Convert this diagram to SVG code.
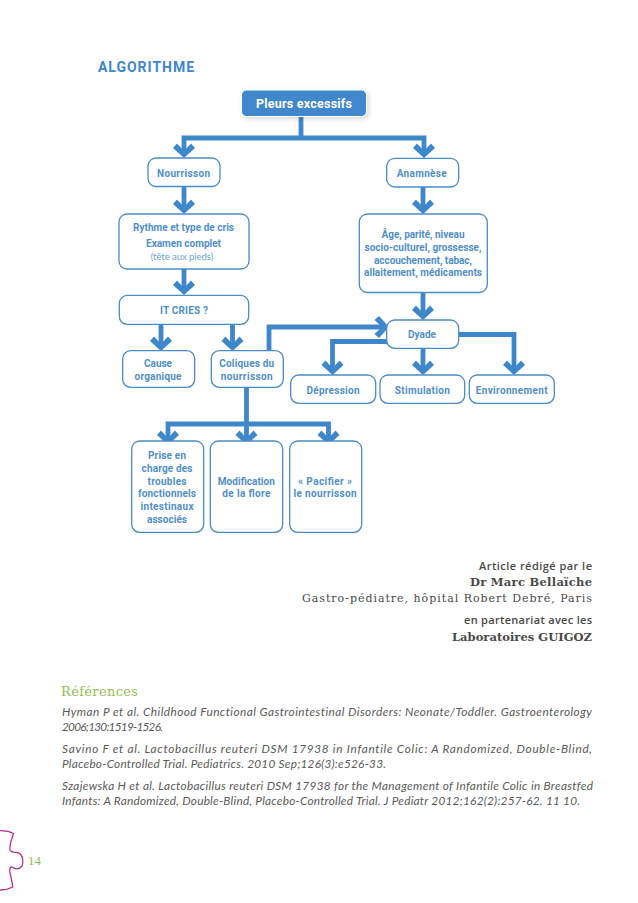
<svg xmlns="http://www.w3.org/2000/svg" width="638" height="903" viewBox="0 0 638 903">
<style>
.box{fill:#fff;stroke:#4a8cc8;stroke-width:1.3}
.n{font-family:Roboto,"Liberation Sans",sans-serif;font-weight:700;font-size:10px;fill:#4f8fca;text-anchor:middle}
.sub{font-family:Lato,"Liberation Sans",sans-serif;font-weight:400;font-size:9.5px;fill:#6b9fd0;text-anchor:middle}
.c{fill:none;stroke:#3f87cb;stroke-width:4.8;stroke-linejoin:miter}
.a{marker-end:url(#chev)}
.r{font-family:"Open Sans","Liberation Sans",sans-serif;font-size:11px;fill:#4a4a4a;text-anchor:end;font-weight:600}
.s{font-family:"DejaVu Serif",serif;fill:#4a4a4a;text-anchor:end;font-weight:700;font-size:11.5px}
.g{font-family:"DejaVu Serif",serif;fill:#4a4a4a;text-anchor:end;font-size:11px}
.b{font-family:Lato,"Open Sans",sans-serif;font-style:italic;font-size:11.8px;fill:#5a5a5a;font-variant-ligatures:none}
</style>
<defs>
<marker id="chev" markerUnits="userSpaceOnUse" markerWidth="18" markerHeight="28" viewBox="-14 -14 18 28" refX="0" refY="0" orient="auto" overflow="visible">
<path d="M3 0L-7 11L-11.500 7L-4 0L-11.500 -7L-7 -11Z" fill="#3f87cb"/>
</marker>
<filter id="sh" x="-10%" y="-20%" width="125%" height="160%"><feDropShadow dx="2" dy="2" stdDeviation="2.500" flood-color="#000" flood-opacity=".15"/></filter>
</defs>
<rect width="638" height="903" fill="#fff"/>
<text x="98" y="72" font-family="Roboto,'Liberation Sans',sans-serif" font-weight="700" font-size="14px" fill="#3f87cb" textLength="96">ALGORITHME</text>
<g id="connectors">
<path class="c" d="M301 116V138"/>
<path class="c a" d="M301 138H184V155"/>
<path class="c a" d="M301 138H424V155"/>
<path class="c a" d="M184 186V211"/>
<path class="c a" d="M423 187V211"/>
<path class="c a" d="M184 269V292"/>
<path class="c a" d="M423 293V317"/>
<path class="c a" d="M161 324V348"/>
<path class="c a" d="M232.500 324V348"/>
<path class="c a" d="M269 350V327H386"/>
<path class="c a" d="M387 341.500H332.500V372"/>
<path class="c a" d="M423 348V372"/>
<path class="c a" d="M458 334.500H514V372"/>
<path class="c" d="M246.500 387V424"/>
<path class="c a" d="M246.500 424H168V442"/>
<path class="c a" d="M246.500 424V442"/>
<path class="c a" d="M246.500 424H328.500V442"/>
</g>
<g id="pleurs"><rect x="241.500" y="90" width="125" height="26.500" rx="5" fill="#3f87cb" stroke="#fff" filter="url(#sh)"/><text class="n" x="304" y="108" style="fill:#fff;font-size:12.500px" textLength="96">Pleurs excessifs</text></g>
<g id="nourrisson"><rect class="box" x="148" y="158" width="72" height="28.500" rx="8"/><text class="n" x="183.500" y="177" textLength="53">Nourrisson</text></g>
<g id="anamnese"><rect class="box" x="386.700" y="158.300" width="72" height="28.700" rx="8"/><text class="n" x="421.700" y="177" textLength="50">Anamnèse</text></g>
<g id="rythme"><rect class="box" x="119" y="214" width="130" height="55" rx="8"/><text class="n" x="183.500" y="231" textLength="101">Rythme et type de cris</text><text class="n" x="183.500" y="247" textLength="75">Examen complet</text><text class="sub" x="182" y="260" textLength="62.500">(tête aux pieds)</text></g>
<g id="age"><rect class="box" x="359.300" y="214" width="128" height="78.500" rx="8"/><text class="n" x="423" y="238" textLength="83">Âge, parité, niveau</text><text class="n" x="423" y="251" textLength="117">socio-culturel, grossesse,</text><text class="n" x="423" y="263.500" textLength="98">accouchement, tabac,</text><text class="n" x="423" y="276" textLength="118">allaitement, médicaments</text></g>
<g id="itcries"><rect class="box" x="119.300" y="295.300" width="129.400" height="29" rx="8"/><text class="n" x="184" y="314" textLength="48">IT CRIES ?</text></g>
<g id="dyade"><rect class="box" x="386.700" y="320" width="72" height="28.300" rx="8"/><text class="n" x="422" y="338" textLength="28">Dyade</text></g>
<g id="cause"><rect class="box" x="122.700" y="350.700" width="72" height="36.600" rx="8"/><text class="n" x="158" y="367" textLength="28">Cause</text><text class="n" x="158" y="380" textLength="47">organique</text></g>
<g id="coliques"><rect class="box" x="211.300" y="350.700" width="72" height="36.600" rx="8"/><text class="n" x="246.700" y="367" textLength="55">Coliques du</text><text class="n" x="246.700" y="380" textLength="52">nourrisson</text></g>
<g id="depression"><rect class="box" x="290.700" y="375" width="85" height="28.300" rx="8"/><text class="n" x="333" y="393.500" textLength="53">Dépression</text></g>
<g id="stimulation"><rect class="box" x="380" y="375" width="84.700" height="28.300" rx="8"/><text class="n" x="422.300" y="393.500" textLength="55">Stimulation</text></g>
<g id="environnement"><rect class="box" x="469.300" y="375" width="85" height="28.300" rx="8"/><text class="n" x="511.700" y="393.500" textLength="72">Environnement</text></g>
<g id="prise"><rect class="box" x="131.700" y="441" width="72" height="91.300" rx="8"/><text class="n" x="167" y="459.300" textLength="38">Prise en</text><text class="n" x="167" y="472" textLength="51">charge des</text><text class="n" x="167" y="484.700" textLength="39">troubles</text><text class="n" x="167" y="497.300" textLength="58">fonctionnels</text><text class="n" x="167" y="510" textLength="53">intestinaux</text><text class="n" x="167" y="522.700" textLength="40">associés</text></g>
<g id="modification"><rect class="box" x="210.300" y="441" width="72.400" height="91.300" rx="8"/><text class="n" x="246.300" y="484.700" textLength="57">Modification</text><text class="n" x="246.300" y="497.300" textLength="48">de la flore</text></g>
<g id="pacifier"><rect class="box" x="289.700" y="441" width="72" height="91.300" rx="8"/><text class="n" x="325" y="484.700" textLength="54">« Pacifier »</text><text class="n" x="325" y="497.300" textLength="63">le nourrisson</text></g>
<text class="r" x="592" y="570" textLength="113">Article rédigé par le</text>
<text class="s" x="592" y="586" textLength="122">Dr Marc Bellaïche</text>
<text class="g" x="592" y="602" textLength="290">Gastro-pédiatre, hôpital Robert Debré, Paris</text>
<text class="r" x="592" y="624" textLength="128">en partenariat avec les</text>
<text class="s" x="592" y="641" textLength="140">Laboratoires GUIGOZ</text>
<text x="61" y="696" font-family="'DejaVu Serif',serif" font-size="13px" fill="#93bf52" textLength="77">Références</text>
<text class="b" x="62" y="716" textLength="530">Hyman P et al. Childhood Functional Gastrointestinal Disorders: Neonate/Toddler. Gastroenterology</text>
<text class="b" x="62" y="731" textLength="101">2006;130:1519-1526.</text>
<text class="b" x="62" y="753" textLength="530">Savino F et al. Lactobacillus reuteri DSM 17938 in Infantile Colic: A Randomized, Double-Blind,</text>
<text class="b" x="62" y="768" textLength="324">Placebo-Controlled Trial. Pediatrics. 2010 Sep;126(3):e526-33.</text>
<text class="b" x="62" y="790" textLength="531">Szajewska H et al. Lactobacillus reuteri DSM 17938 for the Management of Infantile Colic in Breastfed</text>
<text class="b" x="62" y="805" textLength="518">Infants: A Randomized, Double-Blind, Placebo-Controlled Trial. J Pediatr 2012;162(2):257-62. 11 10.</text>
<path d="M0 830.700C5 830.500 9 831 13.500 833.500C12 839 9 845 10 850C11 853 15 852 19 853C23 855 23.500 862 22 866C19 870 15 869 12 867C9.500 867 9.500 870 10 873C11 878 12.500 882 12.700 887C9 889 4 890 0 890" fill="none" stroke="#b9338f" stroke-width="1.300"/>
<text x="28" y="865" font-family="'Liberation Serif',serif" font-size="13px" fill="#93bf52">14</text>
</svg>
